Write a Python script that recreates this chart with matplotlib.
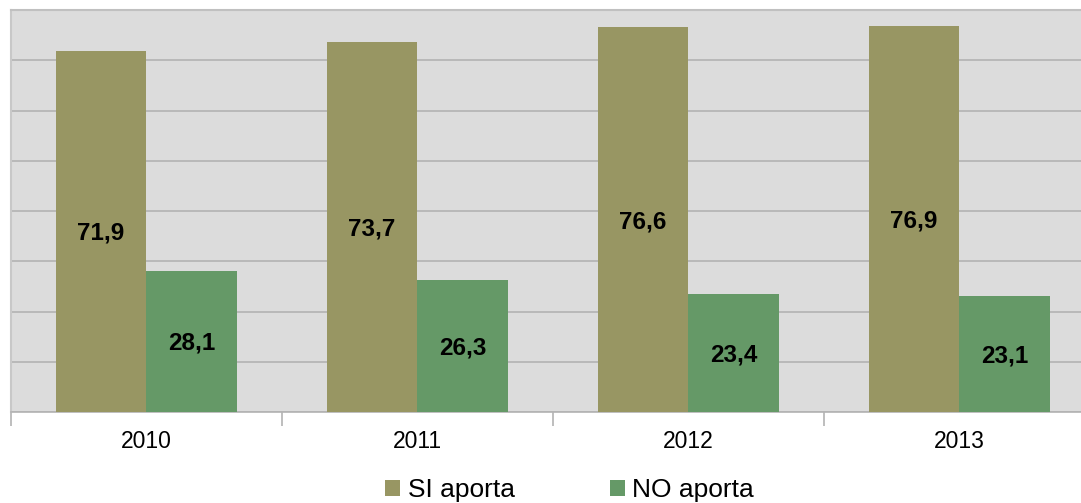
import matplotlib
matplotlib.use('Agg')
import matplotlib.pyplot as plt
import numpy as np

plt.rcParams['font.family'] = ['Liberation Sans', 'DejaVu Sans']

# datos
years = ['2010', '2011', '2012', '2013']
si_aporta = [71.9, 73.7, 76.6, 76.9]
no_aporta = [28.1, 26.3, 23.4, 23.1]

c_si = '#989663'
c_no = '#659967'

fig = plt.figure(figsize=(10.81, 5.03), dpi=100)
# el area de trazado se sale un poco por la derecha
ax = fig.add_axes([11 / 1081, 1 - 412 / 503, 1084 / 1081, 402 / 503])
ax.set_facecolor('#dcdcdc')

x = np.arange(len(years))
w = 0.335
b1 = ax.bar(x - w / 2, si_aporta, w, color=c_si, label='SI aporta', zorder=3)
b2 = ax.bar(x + w / 2, no_aporta, w, color=c_no, label='NO aporta', zorder=3)

# etiquetas en el centro de cada barra
for bars in (b1, b2):
    for r in bars:
        h = r.get_height()
        ax.text(r.get_x() + r.get_width() / 2, h / 2 - 0.4, f'{h:.1f}'.replace('.', ','),
                ha='center', va='center', fontsize=17.5, fontweight='bold', zorder=4)

ax.set_xlim(-0.5, len(years) - 0.5)
ax.set_ylim(0, 80)
ax.set_yticks(np.arange(0, 81, 10))
ax.set_yticklabels([])
ax.tick_params(axis='y', length=0)
ax.grid(axis='y', color='#b3b3b3', linewidth=1.2, zorder=0)

ax.set_xticks(x)
ax.set_xticklabels(years, fontsize=16.5)
ax.tick_params(axis='x', length=0, pad=13)
ax.set_xticks(np.arange(-0.5, len(years), 1), minor=True)
ax.tick_params(axis='x', which='minor', length=10, color='#b3b3b3', width=1.2)

ax.spines['top'].set_color('#c0c0c0')
ax.spines['top'].set_linewidth(1.5)
ax.spines['left'].set_color('#c8c8c8')
ax.spines['left'].set_linewidth(1.5)
ax.spines['bottom'].set_color('#b3b3b3')
ax.spines['bottom'].set_linewidth(1.2)
ax.spines['right'].set_visible(False)

fig.legend(handles=[b1, b2], labels=['SI aporta', 'NO aporta'], loc='center',
           bbox_to_anchor=(0.527, 1 - 490 / 503), ncol=2, frameon=False,
           fontsize=19, handlelength=0.57, handleheight=0.57, handletextpad=0.28,
           columnspacing=3.6)

fig.savefig('out.png', dpi=100)
